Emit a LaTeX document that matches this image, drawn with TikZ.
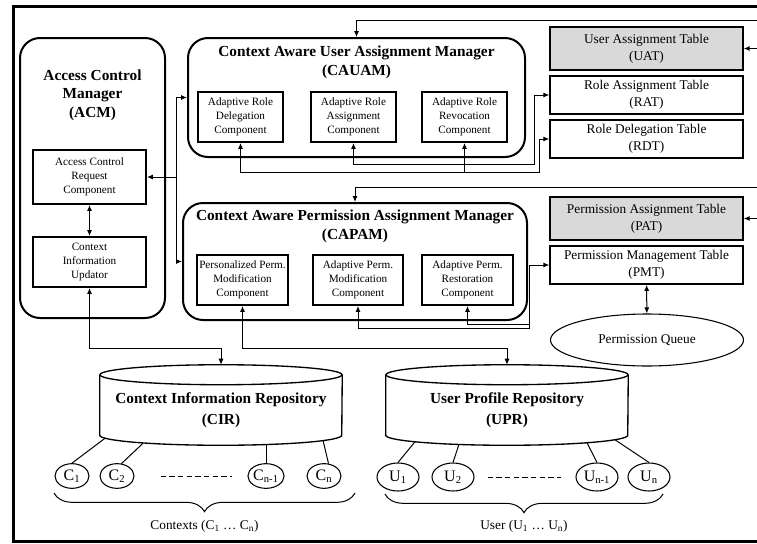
\documentclass[tikz,border=0pt]{standalone}
\usepackage{fontspec}
\setmainfont{Liberation Serif}
\usepackage{tikz}
\usetikzlibrary{shapes.geometric, arrows.meta, positioning, calc, decorations.pathreplacing}

\begin{document}
\begin{tikzpicture}[
    x=0.75pt, y=-0.75pt,
    manager/.style={draw, rounded corners=15pt, line width=1.5pt, inner sep=0pt},
    mtitle/.style={align=center, font=\bfseries\fontsize{11.5}{14}\selectfont},
    comp/.style={draw, line width=1.4pt, inner sep=0pt, minimum height=37.5pt, align=center, font=\fontsize{8.4}{10.5}\selectfont},
    tbl/.style={draw, line width=1pt, minimum width=144.75pt, minimum height=27pt, align=center, font=\fontsize{10}{13}\selectfont},
    gtbl/.style={tbl, fill=black!15, minimum height=32.25pt},
    repo/.style={minimum width=181.5pt, minimum height=52.5pt, inner sep=0pt, align=center, font=\bfseries\fontsize{11.5}{16}\selectfont},
    ctx/.style={draw, ellipse, line width=0.8pt, inner sep=0pt, minimum width=25.5pt, minimum height=18.5pt, font=\fontsize{12}{13}\selectfont},
    usr/.style={ctx, minimum width=31.5pt, minimum height=21pt},
    lbl/.style={font=\fontsize{10}{12}\selectfont},
    link/.style={line width=0.75pt},
    arrow/.style={link, -{Latex[length=4.5pt, width=3.75pt]}},
    backarrow/.style={link, {Latex[length=4.5pt, width=3.75pt]}-},
    dblarrow/.style={link, {Latex[length=4.5pt, width=3.75pt]}-{Latex[length=4.5pt, width=3.75pt]}},
    dashes/.style={line width=0.75pt, dash pattern=on 4pt off 2.5pt},
    brace/.style={decorate, decoration={brace, mirror, amplitude=14pt}, line width=0.75pt},
    frame/.style={line width=2.25pt}
]
\useasboundingbox (0,0) rectangle (757,543);

% outer frame
\draw[frame] (762,6) -| (13,541) -- (762,541);

% access control manager
\node[manager, minimum width=108.75pt, minimum height=210pt] (acm) at (92.5,178) {};
\node[mtitle] (acmtitle) at (92.5,95) {Access Control\\Manager\\(ACM)};
\node[comp, minimum width=84.75pt, minimum height=40.5pt] (acrc) at (89.5,177) {Access Control\\Request\\Component};
\node[comp, minimum width=84.75pt] (ciu) at (89.5,262) {Context\\Information\\Updator};

% user assignment manager
\node[manager, minimum width=252.75pt, minimum height=89.25pt] (cauam) at (356.5,97.5) {};
\node[mtitle] (cauamtitle) at (356.5,62) {Context Aware User Assignment Manager\\(CAUAM)};
\node[comp, minimum width=63.75pt] (ard) at (240.5,117) {Adaptive Role\\Delegation\\Component};
\node[comp, minimum width=63.75pt] (ara) at (353.5,117) {Adaptive Role\\Assignment\\Component};
\node[comp, minimum width=63.75pt] (arr) at (464.5,117) {Adaptive Role\\Revocation\\Component};

% permission assignment manager
\node[manager, minimum width=258pt, minimum height=87.75pt] (capam) at (355,261.5) {};
\node[mtitle] (capamtitle) at (355,226) {Context Aware Permission Assignment Manager\\(CAPAM)};
\node[comp, minimum width=68.25pt] (ppm) at (242.5,280) {Personalized Perm.\\Modification\\Component};
\node[comp, minimum width=67.5pt] (apm) at (358,280) {Adaptive Perm.\\Modification\\Component};
\node[comp, minimum width=68.25pt] (apr) at (467.5,280) {Adaptive Perm.\\Restoration\\Component};

% tables
\node[gtbl] (uat) at (646.5,48.5) {User Assignment Table\\(UAT)};
\node[tbl] (rat) at (646.5,95) {Role Assignment Table\\(RAT)};
\node[tbl] (rdt) at (646.5,139) {Role Delegation Table\\(RDT)};
\node[gtbl] (pat) at (646.5,218.5) {Permission Assignment Table\\(PAT)};
\node[tbl] (pmt) at (646.5,265) {Permission Management Table\\(PMT)};
\node[draw, ellipse, line width=0.8pt, minimum width=144.75pt, minimum height=39pt, font=\fontsize{10}{12}\selectfont] (queue) at (647,340) {Permission Queue};

% repositories
\node[repo] (cir) at (221,410) {Context Information Repository\\(CIR)};
\node[repo] (upr) at (507,410) {User Profile Repository\\(UPR)};
\foreach \r in {cir,upr} {
    \draw[line width=1pt] (\r.north west) -- ([yshift=7.5pt]\r.south west)
        arc[start angle=180, end angle=360, x radius=90.75pt, y radius=7.5pt] -- (\r.north east);
    \draw[line width=1pt] (\r.north) ellipse[x radius=90.75pt, y radius=7.5pt];
    \coordinate (\r top) at ([yshift=7.5pt]\r.north);
}

% contexts and users
\node[ctx] (c1) at (72,476) {C\textsubscript{1}};
\node[ctx] (c2) at (117,476) {C\textsubscript{2}};
\node[ctx] (cn1) at (266,476) {C\textsubscript{n-1}};
\node[ctx] (cn) at (324,476) {C\textsubscript{n}};
\node[usr] (u1) at (398,477) {U\textsubscript{1}};
\node[usr] (u2) at (453,477) {U\textsubscript{2}};
\node[usr] (un1) at (597,477) {U\textsubscript{n-1}};
\node[usr] (un) at (649,477) {U\textsubscript{n}};

\draw[link] ($(cir.south)+(-116,-7)$) -- (c1.north);
\draw[link] ($(cir.south)+(-78,-2)$) -- (c2.70);
\draw[link] ($(cir.south)+(45,-1)$) -- (cn1.north);
\draw[link] ($(cir.south)+(102,-5)$) -- (cn.70);
\draw[link] ($(upr.south)+(-92,-3.5)$) -- (u1.north);
\draw[link] ($(upr.south)+(-48,-1)$) -- (u2.north);
\draw[link] ($(upr.south)+(80,-2.5)$) -- (un1.north);
\draw[link] ($(upr.south)+(108,-5.5)$) -- (un.north);

\draw[dashes] ([xshift=19.5pt]c2.east) -- ([xshift=-11.5pt]cn1.west);
\draw[dashes] ([xshift=9.75pt]u2.east) -- ([xshift=-10.5pt]un1.west);

\draw[brace] (54,493) -- (355,493);
\draw[brace] (385,494) -- (663,494);
\node[lbl] (ctxlbl) at (204.5,526) {Contexts (C\textsubscript{1} … C\textsubscript{n})};
\node[lbl] (usrlbl) at (524,526) {User (U\textsubscript{1} … U\textsubscript{n})};

% acm connections
\coordinate (bus) at ([xshift=22.5pt]acrc.east);
\draw[arrow] (bus) -- (acrc.east);
\draw[arrow] (bus) |- (cauam.west);
\draw[arrow] (bus) |- (capam.west);
\draw[dblarrow] (acrc) -- (ciu);
\draw[dblarrow] (ciu.south) -- ++(0,61) -| (cirtop);
\draw[dblarrow] (ppm.south) -- ++(0,43) -| (uprtop);

% components to tables
\coordinate (ajoin) at ([xshift=-11.25pt]rat.west);
\coordinate (djoin) at ([xshift=-7.5pt]rdt.west);
\coordinate (pjoin) at ([xshift=-15pt]pmt.west);
\draw[dblarrow] (ara.south) -- ++(0,22) -| (ajoin) -- (rat.west);
\draw[dblarrow] (ard.south) -- ++(0,30) -| (djoin) -- (rdt.west);
\draw[backarrow] (arr.south) -- ++(0,30) -| (djoin);
\draw[dblarrow] (apm.south) -- ++(0,23) -| (pjoin) -- (pmt.west);
\draw[backarrow] (apr.south) -- ++(0,19) -| (pjoin);
\draw[dblarrow] (pmt) -- (queue);

% incoming from the right
\coordinate (extu) at (757,20);
\coordinate (extuat) at (757,48.5);
\coordinate (extp) at (757,187);
\coordinate (extpat) at (757,218.5);
\draw[arrow] (extu) -| (cauam.north);
\draw[arrow] (extuat) -- (uat.east);
\draw[arrow] (extp) -| (capam.north);
\draw[arrow] (extpat) -- (pat.east);

\end{tikzpicture}
\end{document}
